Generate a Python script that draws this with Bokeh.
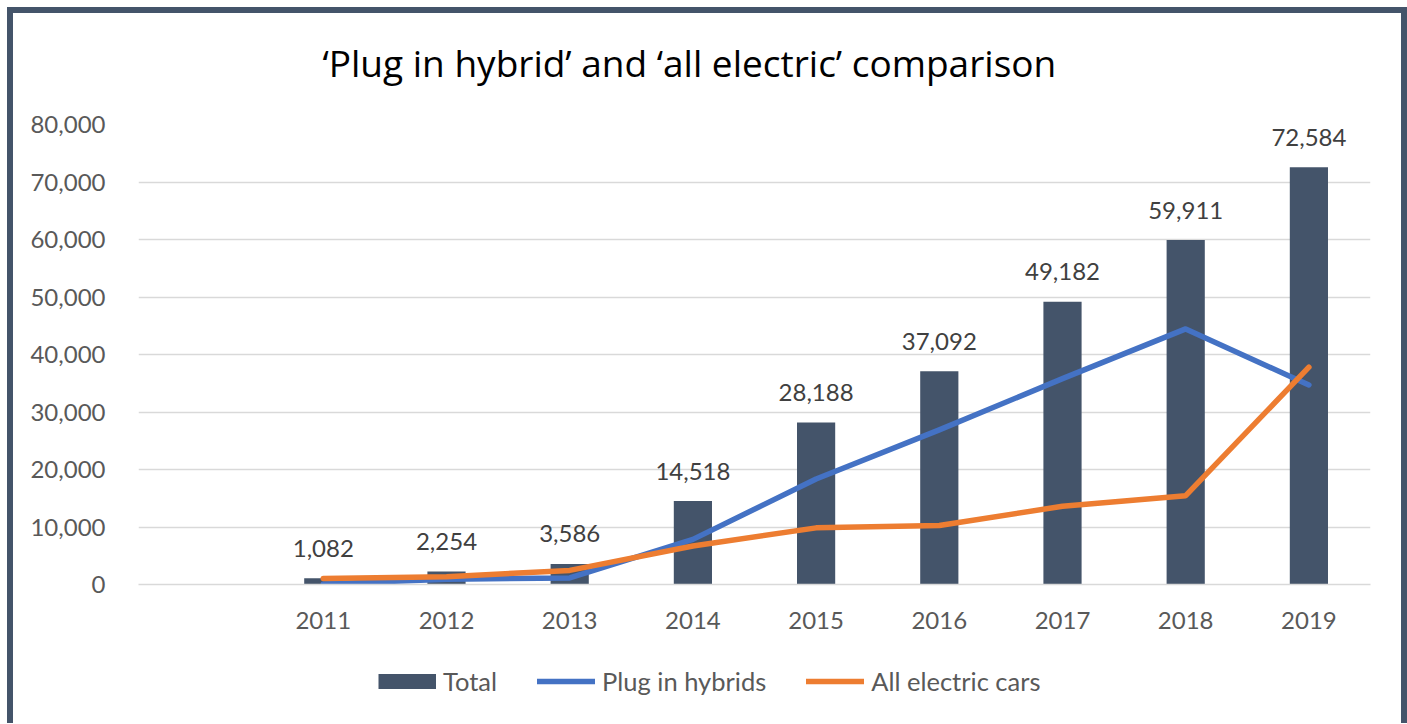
from bokeh.plotting import figure
from bokeh.layouts import column
from bokeh.models import (FixedTicker, NumeralTickFormatter, Legend, LegendItem,
                          Label, Range1d)
from bokeh.core.properties import value
from bokeh.embed import file_html
from bokeh.resources import INLINE

years = [2011, 2012, 2013, 2014, 2015, 2016, 2017, 2018, 2019]
total = [1082, 2254, 3586, 14518, 28188, 37092, 49182, 59911, 72584]
plug_in_hybrids = [100, 900, 1150, 7850, 18350, 26900, 35800, 44450, 34700]
all_electric = [1050, 1350, 2450, 6700, 9850, 10250, 13600, 15450, 37800]
y_ticks = [0, 10000, 20000, 30000, 40000, 50000, 60000, 70000, 80000]
total_labels = [f"{v:,}" for v in total]
series_names = ["Total", "Plug in hybrids", "All electric cars"]
title_text = "\u2018Plug in hybrid\u2019 and \u2018all electric\u2019 comparison"

BAR_C, BLUE, ORANGE = "#44546A", "#4472C4", "#ED7D31"
FONT = value("Lato")
W = 1388
TITLE_H, MAIN_H, LEG_H = 95, 547, 68
FL, FT, FW, FH = 125, 16, 1232, 460


def blank_fig(h, xr=(0, 1), yr=(0, 1)):
    f = figure(width=W, height=h, output_backend="svg", toolbar_location=None,
               x_range=Range1d(*xr), y_range=Range1d(*yr),
               x_axis_location=None, y_axis_location=None, min_border=0)
    f.outline_line_color = None
    f.grid.visible = False
    f.background_fill_color = "white"
    f.border_fill_color = "white"
    return f


# ---- title strip
tf = blank_fig(TITLE_H)
tf.add_layout(Label(x=184, y=46, x_units="screen", y_units="screen",
                    text=title_text, text_font="Open Sans", text_font_size="37px",
                    text_color="#000000", text_baseline="alphabetic", text_align="left"))

# ---- main chart
p = figure(width=W, height=MAIN_H, output_backend="svg", toolbar_location=None,
           x_range=Range1d(2009.5, 2019.5), y_range=Range1d(0, 80000),
           min_border_left=FL, min_border_right=W - FL - FW,
           min_border_top=FT, min_border_bottom=MAIN_H - FT - FH)
p.frame_width = FW
p.frame_height = FH
p.outline_line_color = None
p.background_fill_color = "white"
p.border_fill_color = "white"

p.xaxis.ticker = FixedTicker(ticks=years)
p.yaxis.ticker = FixedTicker(ticks=y_ticks)
p.yaxis.formatter = NumeralTickFormatter(format="0,0")
for ax in (p.xaxis, p.yaxis):
    ax.major_tick_line_color = None
    ax.minor_tick_line_color = None
    ax.major_label_text_font = "Lato"
    ax.major_label_text_font_size = "24px"
    ax.major_label_text_color = "#595959"
p.yaxis.axis_line_color = None
p.yaxis.major_label_standoff = 27
p.xaxis.axis_line_color = "#D9D9D9"
p.xaxis.axis_line_width = 1.5
p.xaxis.major_label_standoff = 21
p.xgrid.grid_line_color = None
p.ygrid.grid_line_color = "#D9D9D9"
p.ygrid.grid_line_width = 1.5

p.vbar(x=years, top=total, width=0.31, fill_color=BAR_C, line_color=None)
p.line(years, plug_in_hybrids, line_color=BLUE, line_width=5.5,
       line_cap="round", line_join="round")
p.line(years, all_electric, line_color=ORANGE, line_width=5.5,
       line_cap="round", line_join="round")
p.text(x=years, y=total, text=total_labels, text_align="center",
       text_baseline="alphabetic", y_offset=-30, text_font=FONT,
       text_font_size="24px", text_color="#404040")

# ---- legend strip: the series are drawn here above the strip's visible range,
# only so that the legend keys carry the series' styles
lf = blank_fig(LEG_H, xr=(2009.5, 2019.5), yr=(-200000, -100000))
k_bar = lf.line(years, total, line_color=BAR_C, line_width=15, line_cap="butt")
k_blue = lf.line(years, plug_in_hybrids, line_color=BLUE, line_width=5.5, line_cap="round")
k_orange = lf.line(years, all_electric, line_color=ORANGE, line_width=5.5, line_cap="round")
legend = Legend(items=[LegendItem(label=series_names[0], renderers=[k_bar]),
                       LegendItem(label=series_names[1], renderers=[k_blue]),
                       LegendItem(label=series_names[2], renderers=[k_orange])],
                orientation="horizontal", location=(240, 27),
                glyph_width=58, glyph_height=16, label_standoff=7, spacing=40,
                padding=0, margin=0, border_line_alpha=0, background_fill_alpha=0,
                label_text_font="Lato", label_text_font_size="25.5px",
                label_text_color="#595959")
lf.add_layout(legend, "center")

layout = column(tf, p, lf, spacing=0,
                styles={"margin-left": "7px", "margin-top": "7px",
                        "border-style": "solid", "border-color": BAR_C,
                        "border-width": "6px 6px 0px 6px"})

open("out.html", "w").write(file_html(layout, INLINE))
